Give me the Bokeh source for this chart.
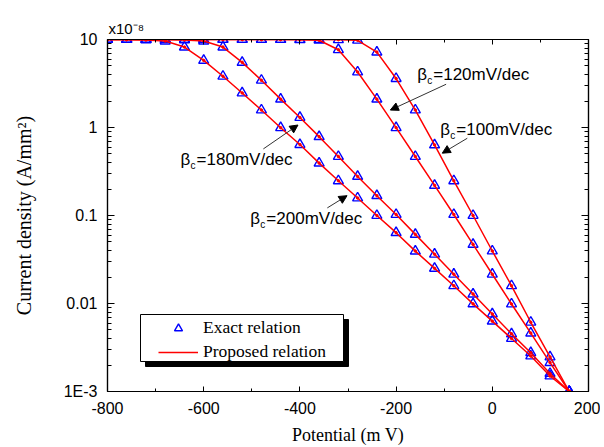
from bokeh.plotting import figure
from bokeh.models import (FixedTicker, LogAxis, LinearAxis, Legend, LegendItem,
                          Label, Arrow, NormalHead, BoxAnnotation)
from bokeh.embed import file_html
from bokeh.resources import INLINE

# ---------------- data ----------------
potential = [-800, -760, -720, -680, -640, -600, -560, -520, -480, -440, -400,
             -360, -320, -280, -240, -200, -160, -120, -80, -40, 0, 40, 80, 120, 160]

beta_100 = [10, 10, 10, 10, 10, 10, 10, 10, 10, 10, 10, 10, 9.95, 9.8,
            7.19, 3.60, 1.58, 0.634, 0.248, 0.100, 0.0395, 0.0159, 0.00612, 0.00247, 0.001]
beta_120 = [10, 10, 10, 10, 10, 10, 10, 10, 10, 10, 9.95, 9.8,
            7.65, 4.27, 2.10, 0.995, 0.468, 0.220, 0.1026, 0.047, 0.0215, 0.00987,
            0.00461, 0.00213, 0.001]
beta_180 = [10, 10, 10, 10, 9.9, 9.6,
            8.2, 5.5, 3.44, 2.10, 1.30, 0.787, 0.468, 0.278, 0.168, 0.1026, 0.061,
            0.0363, 0.0215, 0.0128, 0.0076, 0.00452, 0.00276, 0.0016, 0.001]
beta_200 = [10, 10, 9.9, 9.6,
            8.2, 5.79, 3.82, 2.47, 1.58, 0.995, 0.64, 0.394, 0.248, 0.158, 0.100,
            0.0638, 0.0394, 0.0251, 0.0159, 0.0099, 0.0063, 0.0040, 0.00253, 0.0015, 0.001]
series = [beta_100, beta_120, beta_180, beta_200]

x_ticks = [-800, -600, -400, -200, 0, 200]
x_tick_labels = ["-800", "-600", "-400", "-200", "0", "200"]
x_minor = [-700, -500, -300, -100, 100]
y_ticks = [0.001, 0.01, 0.1, 1, 10]
y_tick_labels = ["1E-3", "0.01", "0.1", "1", "10"]
multiplier = "x10\u207b\u2078"

# annotations: beta_c labels and arrows
beta_values = ["180", "120", "100", "200"]
label_x = [-648, -156, -108, -503]
label_y = [0.43, 3.95, 0.96, 0.092]
arrow_x0 = [-476, -96, -52, -343]
arrow_y0 = [0.571, 3.10, 0.755, 0.122]
arrow_x1 = [-404, -212, -104, -302]
arrow_y1 = [1.067, 1.578, 0.511, 0.168]

SANS = "Liberation Sans"
SERIF = "Liberation Serif"

y_minor = []
for d in y_ticks[:-1]:
    y_minor += [d * k for k in range(2, 10)]

top_tmp = LinearAxis()
use_axis_label = "axis_label_align" in top_tmp.properties()

p = figure(width=600, height=447, x_range=(-800, 200), y_range=(0.001, 10),
           y_axis_type="log", output_backend="svg", toolbar_location=None,
           min_border_left=107, min_border_right=12, min_border_top=39,
           min_border_bottom=54, background_fill_color="white",
           border_fill_color="white")
if not use_axis_label:
    p.title.text = multiplier
    p.title.align = "left"
    p.title.text_font = SANS
    p.title.text_font_size = "15px"
    p.title.text_font_style = "normal"
    p.title.text_color = "black"
    p.title.standoff = 0
    p.title.offset = 0
p.grid.visible = False
p.outline_line_color = "black"
p.outline_line_width = 1.2

xt = FixedTicker(ticks=x_ticks, minor_ticks=x_minor)
yt = FixedTicker(ticks=y_ticks, minor_ticks=y_minor)

def style_axis(ax, major, minor):
    ax.axis_line_color = "black"
    ax.axis_line_width = 1.2
    ax.major_tick_line_color = "black"
    ax.minor_tick_line_color = "black"
    ax.major_tick_in = major
    ax.major_tick_out = 0
    ax.minor_tick_in = minor
    ax.minor_tick_out = 0
    ax.major_label_text_font = SANS
    ax.major_label_text_font_size = "16px"
    ax.major_label_text_color = "black"
    ax.axis_label_text_font = SERIF
    ax.axis_label_text_font_size = "18px"
    ax.axis_label_text_font_style = "normal"
    ax.axis_label_text_color = "black"

xa = p.xaxis[0]
xa.ticker = xt
style_axis(xa, 5, 3)
xa.major_label_overrides = {v: s for v, s in zip(x_ticks, x_tick_labels)}
xa.major_label_standoff = 10
xa.axis_label = "Potential (m V)"
xa.axis_label_standoff = 8

ya = p.yaxis[0]
ya.ticker = yt
style_axis(ya, 7, 4)
ya.major_label_overrides = {v: s for v, s in zip(y_ticks, y_tick_labels)}
ya.major_label_standoff = 10
ya.axis_label = "Current density (A/mm\u00b2)"
ya.axis_label_text_font_size = "20px"
ya.axis_label_standoff = 26

top = LinearAxis(ticker=xt)
style_axis(top, 5, 3)
top.major_label_text_font_size = "1px"
top.major_label_text_color = None
top.major_label_standoff = 0
if use_axis_label:
    # label is centred on the axis start, so pad it on the left to start at the frame edge
    top.axis_label = "\u00a0" * 9 + multiplier
    top.axis_label_align = "start"
    top.axis_label_text_font = SANS
    top.axis_label_text_font_size = "15px"
    top.axis_label_standoff = 3
p.add_layout(top, "above")

right = LogAxis(ticker=yt)
style_axis(right, 7, 4)
right.major_label_text_font_size = "1px"
right.major_label_text_color = None
right.major_label_standoff = 0
p.add_layout(right, "right")

tri_renderers = []
for s in series:
    r = p.scatter(potential, s, marker="triangle", size=10, fill_color=None,
                  line_color="#0000ff", line_width=1.4)
    tri_renderers.append(r)

line_renderers = []
for s in series:
    r = p.line(potential, s, line_color="#ff0000", line_width=1.5)
    line_renderers.append(r)
    p.scatter(potential, s, marker="circle", size=2.5, fill_color="#ff0000",
              line_color="#ff0000")

# legend frame and its drop shadow (screen units, relative to the plot frame)
shadow = BoxAnnotation(left=38, right=241, bottom=25, top=72,
                       left_units="screen", right_units="screen",
                       bottom_units="screen", top_units="screen",
                       fill_color="black", fill_alpha=1.0,
                       line_color="black", line_alpha=1.0, line_width=1)
frame_box = BoxAnnotation(left=33, right=236, bottom=30, top=77,
                          left_units="screen", right_units="screen",
                          bottom_units="screen", top_units="screen",
                          fill_color="white", fill_alpha=1.0,
                          line_color="black", line_alpha=1.0, line_width=1)
p.add_layout(shadow)
p.add_layout(frame_box)

main = Legend(items=[
    LegendItem(label="Exact relation", renderers=[tri_renderers[0]]),
    LegendItem(label="Proposed relation", renderers=[line_renderers[0]]),
], location=(51, 29))
main.label_text_font = SERIF
main.label_text_font_size = "17.5px"
main.label_text_color = "black"
main.glyph_width = 40
main.glyph_height = 20
main.label_height = 20
main.label_standoff = 5
main.padding = 0
main.margin = 0
main.spacing = 3
main.border_line_color = None
main.background_fill_alpha = 0
p.add_layout(main, "center")

for bv, lx, ly in zip(beta_values, label_x, label_y):
    p.add_layout(Label(x=lx, y=ly, text="\u03b2", text_font=SANS, text_font_size="17px",
                       text_baseline="middle", text_color="black"))
    p.add_layout(Label(x=lx, y=ly, text="c", text_font=SANS, text_font_size="10px",
                       text_baseline="middle", x_offset=10, y_offset=-6, text_color="black"))
    p.add_layout(Label(x=lx, y=ly, text="=" + bv + "mV/dec", text_font=SANS,
                       text_font_size="17px", text_baseline="middle", x_offset=16,
                       text_color="black"))

for x0, y0, x1, y1 in zip(arrow_x0, arrow_y0, arrow_x1, arrow_y1):
    p.add_layout(Arrow(x_start=x0, y_start=y0, x_end=x1, y_end=y1,
                       line_color="#333333", line_width=1,
                       end=NormalHead(size=8, fill_color="black", line_color="black")))

open("out.html", "w").write(file_html(p, INLINE))
